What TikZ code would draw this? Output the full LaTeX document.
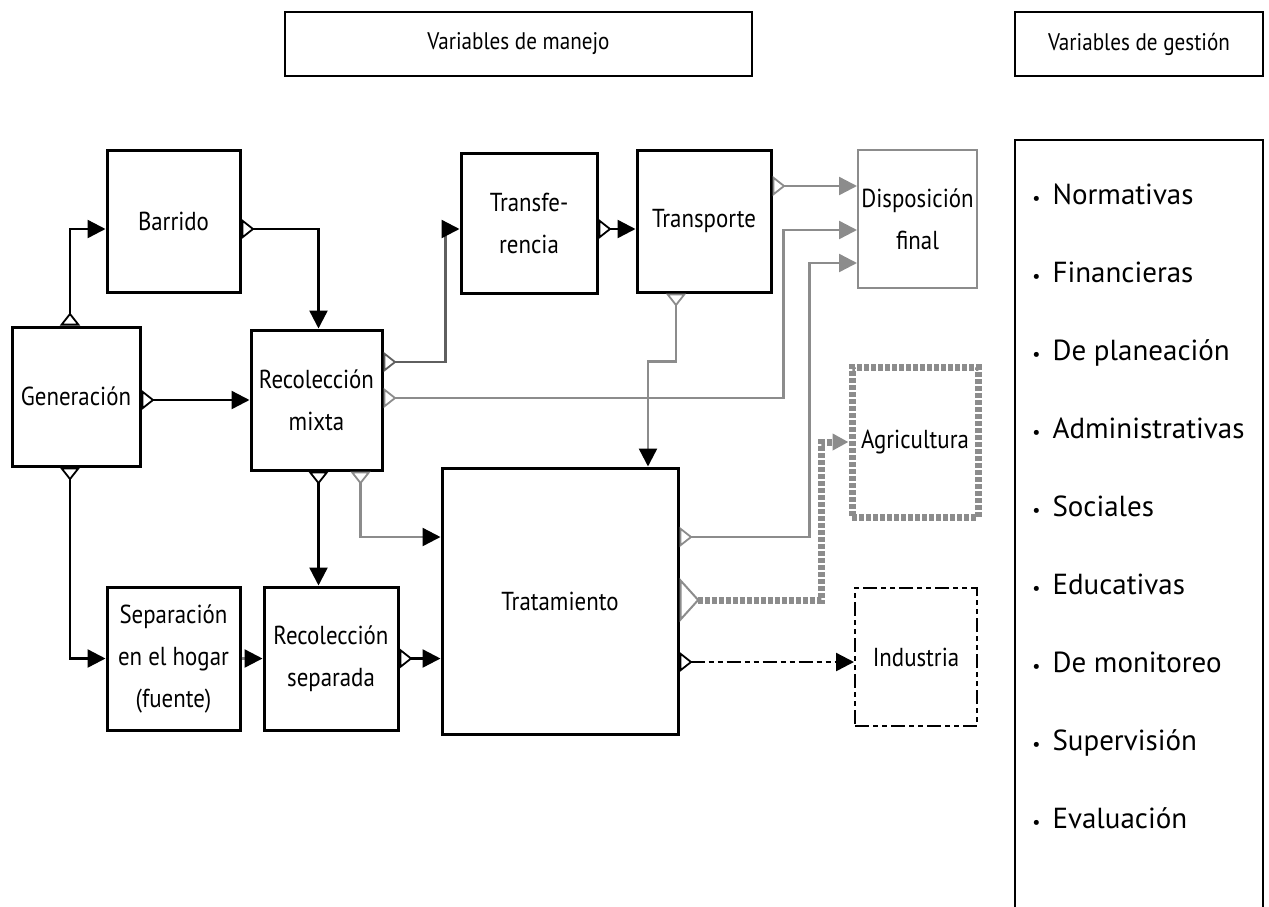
\documentclass[tikz,border=0pt]{standalone}
\usepackage{fontspec}
\setmainfont{PT Sans}
\newfontfamily\boxfont{PT Sans}[FakeStretch=0.88]
\usetikzlibrary{arrows.meta,calc}
\definecolor{lg}{RGB}{140,140,140}
\definecolor{dg}{RGB}{95,95,95}
\begin{document}
\begin{tikzpicture}[x=0.5pt,y=-0.5pt,
  box/.style={draw, line width=1.5pt, align=center, inner sep=0pt,
    font=\boxfont\fontsize{13}{21}\selectfont},
  tbox/.style={draw, line width=1.2pt, inner sep=0pt, font=\boxfont\fontsize{12}{14}\selectfont},
  item/.style={anchor=base west, inner sep=0pt, font=\fontsize{14.5}{16}\selectfont},
  conn/.style={line width=1.2pt},
  arr/.style={-{Triangle[length=9pt,width=9pt,color=black]}},
  marr/.style={{Triangle[open,reversed,length=6.5pt,width=10pt,line width=0.9pt]}-{Triangle[length=9pt,width=9pt,color=black]}},
  mgarr/.style={{Triangle[open,reversed,length=6.5pt,width=10pt,line width=0.9pt]}-{Triangle[length=9pt,width=9pt]}},
  agrline/.style={draw=lg, line width=3.5pt, dash pattern=on 2.5pt off 1pt},
  dashdot/.style={dash pattern=on 7pt off 2pt on 2.5pt off 2pt on 2.5pt off 2pt}
]
\useasboundingbox (0,0) rectangle (1269,906);

% titles
\node[tbox, minimum width=233.5pt, minimum height=32pt] (t1) at (518.5,44) {Variables de manejo};
\node[tbox, minimum width=124pt, minimum height=32pt] (t2) at (1139,44) {Variables de gestión};

% right list box
\node[draw, line width=1.2pt, minimum width=124pt, minimum height=386pt, inner sep=0pt] (gbox) at (1139,526) {};
\foreach \t [count=\i] in {Normativas,Financieras,De planeación,Administrativas,Sociales,Educativas,De monitoreo,Supervisión,Evaluación}{
  \node[item] (l\i) at (1032,{204+78.1*(\i-1)}) {{\fontsize{9}{9}\selectfont\textbullet}\hspace{6pt}\t};
}

% boxes
\node[box, minimum width=64pt, minimum height=69.5pt] (gen) at (76,396.5) {Generación};
\node[box, minimum width=66.5pt, minimum height=71pt] (bar) at (173.5,221) {Barrido};
\node[box, minimum width=65.5pt, minimum height=70pt] (rm) at (316.5,400) {Recolección\\mixta};
\node[box, minimum width=68pt, minimum height=70pt] (tf) at (529,223) {Transfe-\\rencia};
\node[box, minimum width=67pt, minimum height=71pt] (tp) at (704,221) {Transporte};
\node[box, draw=lg, line width=1pt, minimum width=59.5pt, minimum height=69pt] (df) at (917.5,219) {Disposición\\final};
\node[box, agrline, minimum width=63pt, minimum height=75pt] (ag) at (915,442) {Agricultura};
\node[box, minimum width=118pt, minimum height=133pt] (tr) at (560,601) {Tratamiento};
\node[box, dashdot, line width=1pt, minimum width=61pt, minimum height=69pt] (ind) at (916,657) {Industria};
\node[box, minimum width=66.5pt, minimum height=71.5pt] (sep) at (173.5,658.5) {Separación\\en el hogar\\(fuente)};
\node[box, minimum width=67pt, minimum height=71.5pt] (rs) at (331,658.5) {Recolección\\separada};

% connectors
\draw[conn, marr] ([xshift=-3pt]gen.north) |- ([yshift=-4pt]bar.west);
\draw[conn, marr] (gen.east |- rm.west) -- (rm.west);
\draw[conn, marr] ([xshift=-3pt]gen.south) |- (sep.west);
\draw[conn, marr] ([yshift=-4pt]bar.east) -| ([xshift=1pt]rm.north);
\draw[conn, draw=dg, marr] ([yshift=19pt]rm.east) -- ++(31pt,0pt) |- ([yshift=-3pt]tf.west);
\draw[conn, draw=lg, mgarr] ([yshift=1pt]rm.east) -- ++(200pt,0pt) |- ([yshift=-5.5pt]df.west);
\draw[conn, marr] ([yshift=-3pt]tf.east) -- ([yshift=-4pt]tp.west);
\draw[conn, draw=lg, mgarr] ([yshift=17.5pt]tp.east) -- ([yshift=16.5pt]df.west);
\draw[conn, draw=lg, marr] ([xshift=-14pt]tp.south) -- ++(0pt,-34pt) -| ([xshift=44pt]tr.north);
\draw[conn, draw=lg, mgarr] ([yshift=32pt]tr.east) -- ++(65pt,0pt) |- ([yshift=-22pt]df.west);
\draw[agrline, {Triangle[open,reversed,length=10pt,width=22pt,line width=1pt]}-{Triangle[length=8pt,width=8pt]}]
  ([yshift=0.5pt]tr.east) -- ++(71pt,0pt) |- (ag.west);
\draw[conn, dashdot, marr] ([yshift=-30.5pt]tr.east) -- ([yshift=-2.5pt]ind.west);
\draw[conn, marr] ([xshift=1pt]rm.south) -- ([xshift=1pt]rm.south |- rs.north);
\draw[conn, draw=lg, marr] ([xshift=22pt]rm.south) |- ([yshift=32pt]tr.west);
\draw[conn, draw=lg, arr] (sep.east) -- (rs.west);
\draw[conn, marr] (rs.east) -- (rs.east -| tr.west);
\end{tikzpicture}
\end{document}
